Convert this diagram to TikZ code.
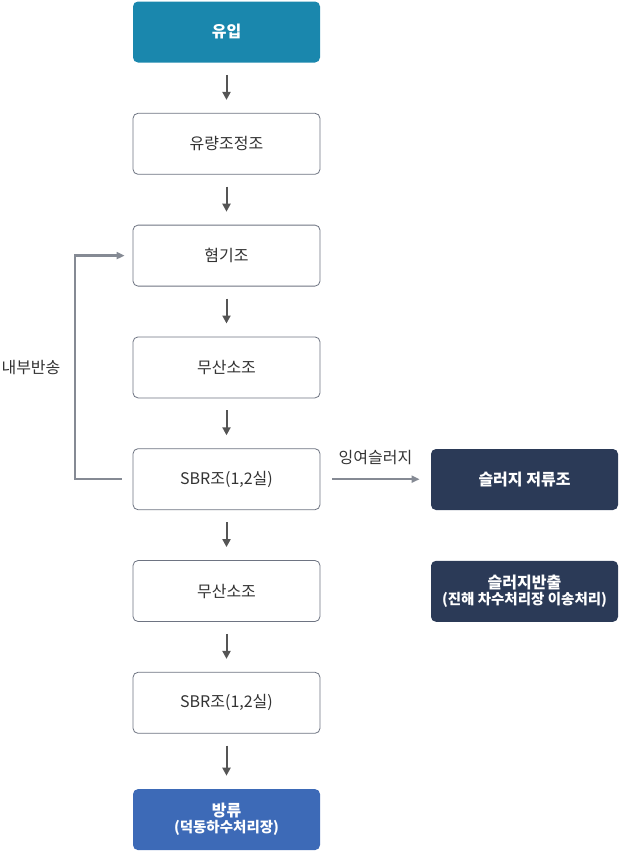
\documentclass[tikz,border=0pt]{standalone}
\usepackage{fontspec}
\setmainfont{Noto Sans CJK KR}
\usepackage{xcolor}
\usetikzlibrary{arrows.meta,positioning}

\definecolor{inflow}{HTML}{1A87AD}
\definecolor{sludge}{HTML}{2B3A57}
\definecolor{outflow}{HTML}{3D6AB7}
\definecolor{boxline}{HTML}{6E7482}
\definecolor{linegray}{HTML}{858A94}
\definecolor{arrowgray}{HTML}{555555}
\definecolor{txt}{HTML}{333333}

\begin{document}
\begin{tikzpicture}[x=1pt,y=-1pt,font=\fontsize{16}{19}\selectfont,text=txt,
  every node/.style={inner sep=0pt,align=center},
  stepbox/.style={draw=boxline,line width=0.8pt,rounded corners=5pt,fill=white,minimum width=187pt,minimum height=61pt},
  fillbox/.style={stepbox,draw=none,text=white,font=\fontsize{16}{19}\selectfont\bfseries},
  flow/.style={-{Triangle[length=8pt,width=8pt]},arrowgray,line width=2pt,shorten >=13pt,shorten <=12pt},
  side/.style={-{Triangle[length=8pt,width=7pt]},linegray,line width=2.4pt,line join=miter}]
\useasboundingbox (0,0) rectangle (619,852);
\node (in) at (226.5,32) [fillbox,fill=inflow]{유입};
\node (eq) [stepbox,below=50pt of in]{유량조정조};
\node (an) [stepbox,below=50pt of eq]{혐기조};
\node (ax1) [stepbox,below=50pt of an]{무산소조};
\node (sbr1) [stepbox,below=50pt of ax1]{SBR조(1,2실)};
\node (ax2) [stepbox,below=50pt of sbr1]{무산소조};
\node (sbr2) [stepbox,below=50pt of ax2]{SBR조(1,2실)};
\node (out) [fillbox,fill=outflow,below=55pt of sbr2]{방류\\[-3pt]{\fontsize{14.5}{17}\selectfont(덕동하수처리장)}};
\node (tank) at (524.5,479.5) [fillbox,fill=sludge]{슬러지 저류조};
\node (haul) [fillbox,fill=sludge,below=50pt of tank]{슬러지반출\\[-3pt]{\fontsize{14.5}{17}\selectfont(진해 차수처리장 이송처리)}};
\coordinate (rl) at (75,0);
\draw[flow] (in) -- (eq);
\draw[flow] (eq) -- (an);
\draw[flow] (an) -- (ax1);
\draw[flow] (ax1) -- (sbr1);
\draw[flow] (sbr1) -- (ax2);
\draw[flow] (ax2) -- (sbr2);
\draw[flow] (sbr2) -- (out);
\draw[side,shorten <=12pt,shorten >=11pt] (sbr1.east) -- node[above=13pt,text=txt]{잉여슬러지} (sbr1.east -| tank.west);
\draw[side,shorten <=11pt,shorten >=8pt] (sbr1.west) -- (sbr1.west -| rl) |- (an.west);
\node (ret) at (31,368) {내부반송};
\end{tikzpicture}
\end{document}
